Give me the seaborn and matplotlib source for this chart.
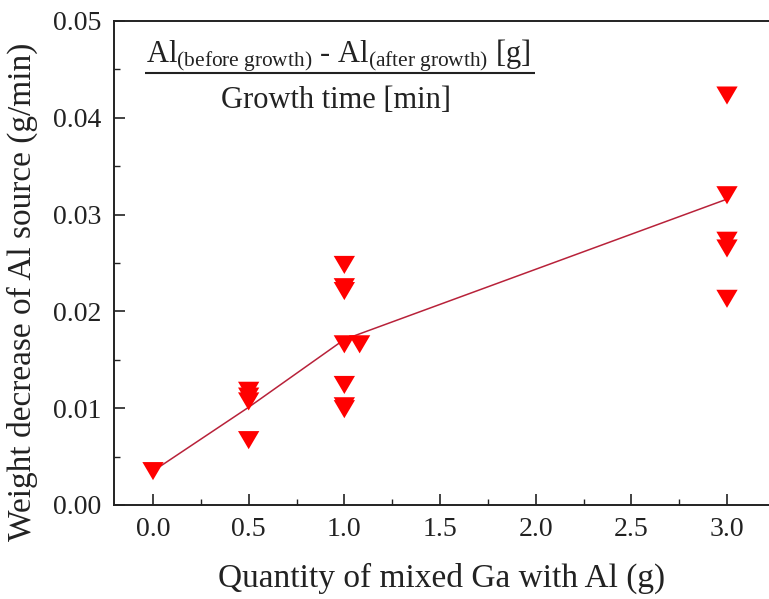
import matplotlib
matplotlib.use("Agg")
import matplotlib.pyplot as plt
import seaborn as sns
import pandas as pd
from matplotlib.ticker import MultipleLocator

# Ga quantity mixed into the Al source (g) and measured Al consumption rate (g/min)
ga_quantity = [0.0, 0.5, 0.5, 0.5, 0.5,
               1.0, 1.0, 1.0, 1.0, 1.08, 1.0, 1.0, 1.0,
               3.0, 3.0, 3.0, 3.0, 3.0]
weight_loss = [0.0035, 0.0118, 0.0112, 0.0107, 0.0067,
               0.0248, 0.0225, 0.0221, 0.0166, 0.0166, 0.0124, 0.0102, 0.0099,
               0.0423, 0.0320, 0.0273, 0.0265, 0.0213]

# trend line through the groups
trend_x = [0.0, 0.5, 1.0, 3.0]
trend_y = [0.0035, 0.0101, 0.0171, 0.0316]

x_ticks = [0.0, 0.5, 1.0, 1.5, 2.0, 2.5, 3.0]
y_ticks = [0.00, 0.01, 0.02, 0.03, 0.04, 0.05]

points = pd.DataFrame({"ga": ga_quantity, "loss": weight_loss})
trend = pd.DataFrame({"ga": trend_x, "loss": trend_y})

sns.set_theme(style="ticks")
plt.rcParams["font.family"] = ["Liberation Serif", "DejaVu Serif"]
plt.rcParams["mathtext.fontset"] = "custom"
plt.rcParams["mathtext.rm"] = "Liberation Serif"
plt.rcParams["mathtext.it"] = "Liberation Serif:italic"

W, H = 769, 599
fig = plt.figure(figsize=(W / 100, H / 100), dpi=100)
fig.patch.set_facecolor("white")

# axes box in pixels: left 114, right 775 (runs past the edge), top 21, bottom 505
ax_l, ax_r, ax_t, ax_b = 114, 775, 21, 505
ax = fig.add_axes([ax_l / W, (H - ax_b) / H, (ax_r - ax_l) / W, (ax_b - ax_t) / H])

sns.lineplot(data=trend, x="ga", y="loss", ax=ax, color="#b8223a", linewidth=1.1,
             zorder=2, legend=False)

tri = [(-1.0, 0.85), (1.0, 0.85), (0.0, -0.85)]
sns.scatterplot(data=points, x="ga", y="loss", ax=ax, marker=tri, s=235,
                color="#ff0000", edgecolor="none", linewidth=0, zorder=3,
                legend=False)

x_per_px = 3.0 / (727 - 153)
ax.set_xlim(0.0 - (153 - ax_l) * x_per_px, 0.0 + (ax_r - 153) * x_per_px)
ax.set_ylim(0.0, 0.05)
ax.set_xticks(x_ticks)
ax.set_xticklabels([f"{v:.1f}" for v in x_ticks])
ax.set_yticks(y_ticks)
ax.set_yticklabels([f"{v:.2f}" for v in y_ticks])
ax.xaxis.set_minor_locator(MultipleLocator(0.25))
ax.yaxis.set_minor_locator(MultipleLocator(0.005))

ax.tick_params(axis="both", which="major", direction="in", length=8, width=1.2,
               color="#222222", labelsize=20, labelcolor="#222222", pad=9)
ax.tick_params(axis="both", which="minor", direction="in", length=4, width=1.0,
               color="#222222")
ax.tick_params(top=False, right=False, which="both")
for side in ["left", "bottom", "top", "right"]:
    ax.spines[side].set_linewidth(1.4)
    ax.spines[side].set_color("#222222")

ax.set_xlabel("Quantity of mixed Ga with Al (g)", fontsize=24, color="#222222")
ax.set_ylabel("Weight decrease of Al source (g/min)", fontsize=24, color="#222222")
ax.xaxis.label.set_verticalalignment("center")
ax.xaxis.set_label_coords(((442 - ax_l) / (ax_r - ax_l)), -(578 - ax_b) / (ax_b - ax_t))
ax.yaxis.set_label_coords(-(ax_l - 22) / (ax_r - ax_l), (ax_b - 292) / (ax_b - ax_t))
ax.yaxis.label.set_verticalalignment("center")


def ax_frac(px, py):
    return (px - ax_l) / (ax_r - ax_l), (ax_b - py) / (ax_b - ax_t)


# rate formula written as a fraction
num_x, num_y = ax_frac(146, 62)
ax.text(num_x, num_y,
        r"Al$_{\mathrm{(before\ growth)}}$ - Al$_{\mathrm{(after\ growth)}}$ [g]",
        transform=ax.transAxes, fontsize=22, color="#222222",
        ha="left", va="baseline")
bx0, by = ax_frac(145, 73)
bx1, _ = ax_frac(535, 73)
ax.plot([bx0, bx1], [by, by], transform=ax.transAxes, color="#222222",
        linewidth=1.5, solid_capstyle="butt")
den_x, den_y = ax_frac(336, 100)
ax.text(den_x, den_y, "Growth time [min]", transform=ax.transAxes, fontsize=22,
        color="#222222", ha="center", va="center")

fig.savefig("out.png", dpi=100, facecolor="white")
